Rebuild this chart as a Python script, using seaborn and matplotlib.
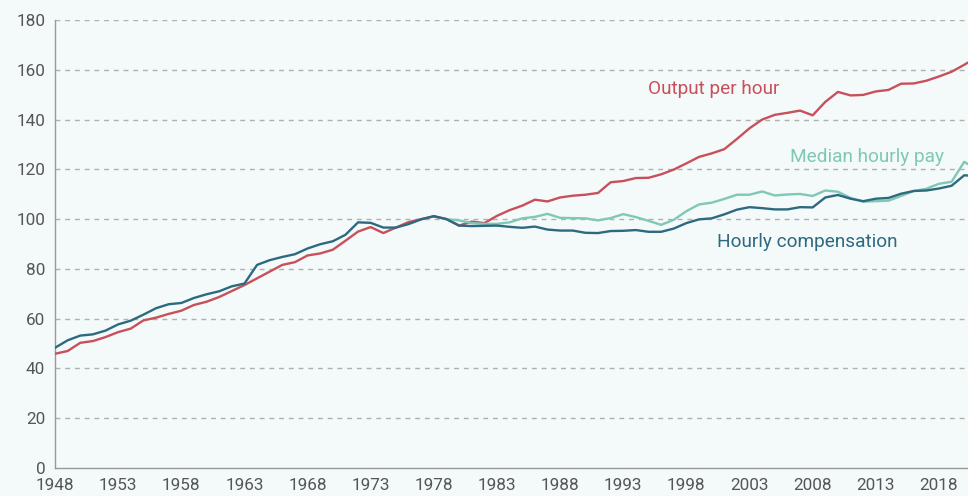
import numpy as np
import pandas as pd
import matplotlib
matplotlib.use("Agg")
import matplotlib.pyplot as plt
import seaborn as sns

years = list(range(1948, 2022))

output_per_hour = [
    45.9, 47.0, 50.3, 51.0, 52.6, 54.6, 56.0, 59.3, 60.4, 61.9,
    63.2, 65.5, 66.8, 68.7, 71.1, 73.5, 76.2, 78.9, 81.6, 82.7,
    85.4, 86.2, 87.7, 91.3, 95.0, 96.8, 94.4, 96.6, 98.8, 100.0,
    101.1, 100.0, 97.4, 99.0, 98.4, 101.3, 103.6, 105.4, 107.8, 107.1,
    108.7, 109.4, 109.8, 110.5, 114.8, 115.3, 116.5, 116.6, 118.0, 119.9,
    122.4, 125.0, 126.4, 128.1, 132.2, 136.5, 140.0, 141.9, 142.7, 143.6,
    141.7, 147.1, 151.1, 149.7, 149.9, 151.3, 151.9, 154.4, 154.5, 155.6,
    157.3, 159.2, 162.0, 165.0,
]

hourly_compensation = [
    48.3, 51.3, 53.2, 53.7, 55.2, 57.7, 59.2, 61.6, 64.2, 65.8,
    66.3, 68.3, 69.8, 71.0, 73.0, 74.1, 81.6, 83.5, 84.8, 85.9,
    88.2, 89.9, 91.1, 93.7, 98.7, 98.5, 96.6, 96.6, 98.0, 99.9,
    101.2, 100.0, 97.4, 97.2, 97.3, 97.4, 96.9, 96.5, 97.0, 95.8,
    95.4, 95.4, 94.5, 94.4, 95.2, 95.3, 95.6, 94.9, 94.9, 96.2,
    98.4, 99.9, 100.3, 101.9, 103.8, 104.8, 104.4, 103.9, 103.9, 104.8,
    104.7, 108.7, 109.7, 108.2, 107.2, 108.2, 108.5, 110.2, 111.3, 111.5,
    112.3, 113.4, 117.6, 117.3,
]

median_years = list(range(1979, 2022))
median_hourly_pay = [
    100.0, 99.5, 98.4, 98.1, 98.1, 98.7, 100.3, 100.9, 102.1, 100.5,
    100.4, 100.3, 99.5, 100.4, 102.0, 100.8, 99.3, 97.7, 99.7, 103.2,
    105.9, 106.6, 108.1, 109.8, 109.8, 111.1, 109.5, 109.9, 110.1, 109.3,
    111.5, 111.0, 108.5, 107.0, 107.2, 107.4, 109.3, 111.3, 112.2, 114.2,
    115.0, 123.0, 120.0,
]

series_names = ["Output per hour", "Median hourly pay", "Hourly compensation"]
colors = {"Output per hour": "#c8505b",
          "Median hourly pay": "#80c8b6",
          "Hourly compensation": "#2d6a80"}

y_ticks = [0, 20, 40, 60, 80, 100, 120, 140, 160, 180]
x_ticks = list(range(1948, 2019, 5))

df = pd.concat([
    pd.DataFrame({"year": years, "value": output_per_hour, "series": series_names[0]}),
    pd.DataFrame({"year": median_years, "value": median_hourly_pay, "series": series_names[1]}),
    pd.DataFrame({"year": years, "value": hourly_compensation, "series": series_names[2]}),
])

sns.set_style("white")
bg = "#f4f9f9"
plt.rcParams['font.family'] = ['Roboto', 'DejaVu Sans']

fig = plt.figure(figsize=(9.68, 4.96), dpi=100, facecolor=bg)
ax = fig.add_axes([55 / 968, 28 / 496, 1 - 55 / 968, (468 - 20) / 496])
ax.set_facecolor(bg)

for yv in y_ticks[1:]:
    ax.axhline(yv, color="#b0b0b0", lw=1.0, ls=(0, (3.5, 3.5)), zorder=0)

sns.lineplot(data=df, x="year", y="value", hue="series", palette=colors,
             linewidth=1.7, legend=False, ax=ax, zorder=3)

ax.set_xlim(1948, 2020.3)
ax.set_ylim(0, 180)
ax.set_xticks(x_ticks)
ax.set_yticks(y_ticks)
ax.set_xlabel("")
ax.set_ylabel("")
for s in ["top", "right"]:
    ax.spines[s].set_visible(False)
for s in ["left", "bottom"]:
    ax.spines[s].set_color("#999999")
    ax.spines[s].set_linewidth(1.0)
ax.tick_params(axis="both", direction="out", length=5, width=1.0, color="#999999",
               labelcolor="#555555", labelsize=12.3, pad=2)

ax.text(1994.95, 152.3, "Output per hour", color=colors["Output per hour"],
        fontsize=13.7, va="center", ha="left")
ax.text(2006.2, 125.0, "Median hourly pay", color=colors["Median hourly pay"],
        fontsize=13.7, va="center", ha="left")
ax.text(2000.4, 90.8, "Hourly compensation", color=colors["Hourly compensation"],
        fontsize=13.7, va="center", ha="left")

fig.savefig("out.png", dpi=100, facecolor=bg)
